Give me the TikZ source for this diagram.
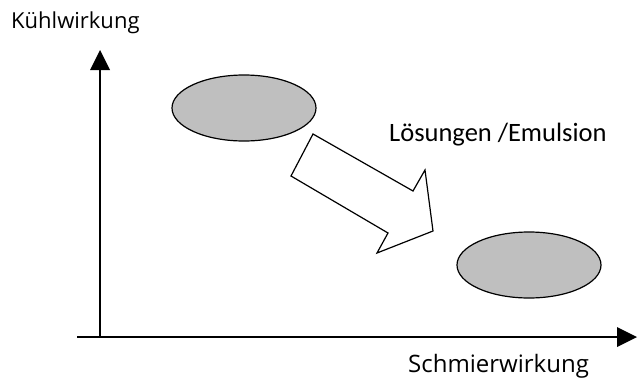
\documentclass[tikz,border=0pt]{standalone}
\usepackage{fontspec}
\setmainfont{Open Sans}
\newfontfamily\labelfont{Carlito}
\usetikzlibrary{shapes.geometric}
\begin{document}
\begin{tikzpicture}[x=1pt,y=-1pt,
  axis/.style={line width=1.6pt},
  headfill/.style={fill=black,draw=none},
  blob/.style={ellipse,draw=black,line width=1.2pt,fill=black!25,minimum width=144pt,minimum height=66pt,inner sep=0pt},
  axislabel/.style={anchor=base west,inner sep=0pt},
  bigarrow/.style={draw=black,line width=1.2pt,fill=white,line join=miter}]
\useasboundingbox (0,0) rectangle (640,383);

% axes
\coordinate (origin) at (100,337);
\coordinate (yend) at (100,70);
\coordinate (ytip) at (100,50);
\coordinate (xstart) at (77,337);
\coordinate (xend) at (617,337);
\coordinate (xtip) at (637,337);
\draw[axis] (origin) -- (yend);
\draw[axis] (xstart) -- (xend);
\fill[headfill] (ytip) -- (90,70) -- (110,70) -- cycle;
\fill[headfill] (xtip) -- (617,327) -- (617,347) -- cycle;

% regions
\node[blob] (upper) at (244,108) {};
\node[blob] (lower) at (529,265) {};

% block arrow between the regions
\draw[bigarrow] (313,134) -- (413,191) -- (425,170) -- (433,231) -- (377,253) -- (388,233) -- (291,176) -- cycle;

% labels
\node[axislabel,font=\fontsize{22}{26}\selectfont] (ylabel) at (11,28) {Kühlwirkung};
\node[axislabel,font=\fontsize{24}{28}\selectfont] (xlabel) at (408,372) {Schmierwirkung};
\node[anchor=base west,inner sep=0pt,font=\labelfont\fontsize{26.5}{30}\selectfont] (trend) at (389,141) {Lösungen /Emulsion};
\end{tikzpicture}
\end{document}
